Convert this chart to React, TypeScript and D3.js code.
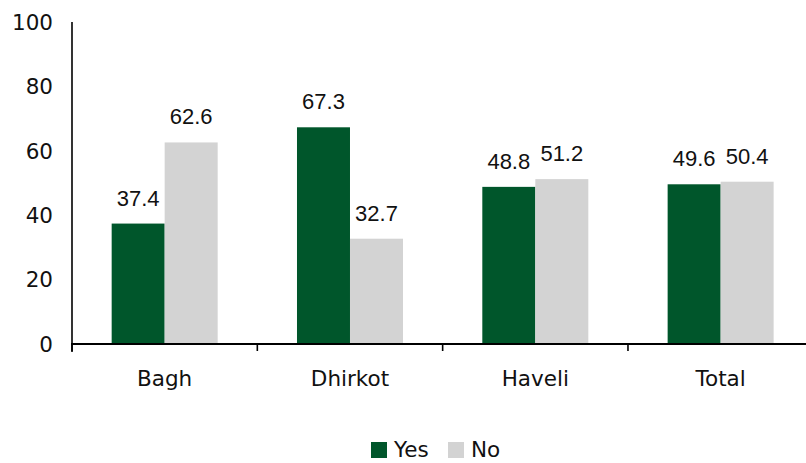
import React from "react";
import * as d3 from "d3";

const categories = ["Bagh", "Dhirkot", "Haveli", "Total"];
const seriesNames = ["Yes", "No"];
const yesValues = [37.4, 67.3, 48.8, 49.6];
const noValues = [62.6, 32.7, 51.2, 50.4];
const yTicks = [0, 20, 40, 60, 80, 100];

const colors: Record<string, string> = { Yes: "#00562B", No: "#D3D3D3" };

const W = 806;
const H = 463;
const axisLeft = 72;
const axisRight = 813.3;
const yTop = 22;
const yBottom = 344;
const groupWidth = 106;

export default function App() {
  const x = d3.scaleBand<string>().domain(categories).range([axisLeft, axisRight]).padding(0);
  const xs = d3.scaleBand<string>().domain(seriesNames).range([0, groupWidth]).padding(0);
  const y = d3.scaleLinear().domain([0, 100]).range([yBottom, yTop]);

  const rows = categories.map((c, i) => ({
    category: c,
    values: [
      { key: "Yes", value: yesValues[i] },
      { key: "No", value: noValues[i] },
    ],
  }));

  const tickXs = d3.range(categories.length + 1).map((i) =>
    i < categories.length ? (x(categories[i]) as number) : axisRight
  );

  const numFont = "'Liberation Sans', Arial, sans-serif";
  const axisFont = "'DejaVu Sans', Verdana, sans-serif";

  return (
    <div style={{ position: "absolute", left: 0, top: 0 }}>
      <svg width={W} height={H} style={{ display: "block", background: "#fff" }}>
        {/* bars */}
        {rows.map((r) => {
          const gx = (x(r.category) as number) + (x.bandwidth() - groupWidth) / 2;
          return (
            <g key={r.category}>
              {r.values.map((v) => {
                const bx = gx + (xs(v.key) as number);
                return (
                  <g key={v.key}>
                    <rect
                      x={bx}
                      y={y(v.value)}
                      width={xs.bandwidth()}
                      height={y(0) - y(v.value)}
                      fill={colors[v.key]}
                    />
                    <text
                      x={bx + xs.bandwidth() / 2}
                      y={y(v.value) - 18}
                      textAnchor="middle"
                      fontFamily={numFont}
                      fontSize={22}
                      fill="#111"
                    >
                      {v.value.toFixed(1)}
                    </text>
                  </g>
                );
              })}
            </g>
          );
        })}

        {/* y axis */}
        <line x1={axisLeft} x2={axisLeft} y1={yTop} y2={yBottom + 8} stroke="#000" strokeWidth={1.6} />
        {yTicks.map((t) => (
          <text
            key={t}
            x={53}
            y={y(t)}
            dy="0.36em"
            textAnchor="end"
            fontFamily={axisFont}
            fontSize={21.5}
            fill="#111"
          >
            {t}
          </text>
        ))}

        {/* x axis */}
        <line x1={axisLeft - 1} x2={W} y1={yBottom} y2={yBottom} stroke="#000" strokeWidth={2} />
        {tickXs.map((tx, i) => (
          <line key={i} x1={tx} x2={tx} y1={yBottom} y2={yBottom + 7} stroke="#000" strokeWidth={1.6} />
        ))}
        {categories.map((c) => (
          <text
            key={c}
            x={(x(c) as number) + x.bandwidth() / 2}
            y={386}
            textAnchor="middle"
            fontFamily={axisFont}
            fontSize={21.5}
            fill="#111"
          >
            {c}
          </text>
        ))}

        {/* legend */}
        {seriesNames.map((s, i) => {
          const lx = 371 + i * 77;
          return (
            <g key={s}>
              <rect x={lx} y={442} width={16} height={16} fill={colors[s]} />
              <text x={lx + 23} y={457} fontFamily={axisFont} fontSize={21.5} fill="#111">
                {s}
              </text>
            </g>
          );
        })}
      </svg>
    </div>
  );
}
